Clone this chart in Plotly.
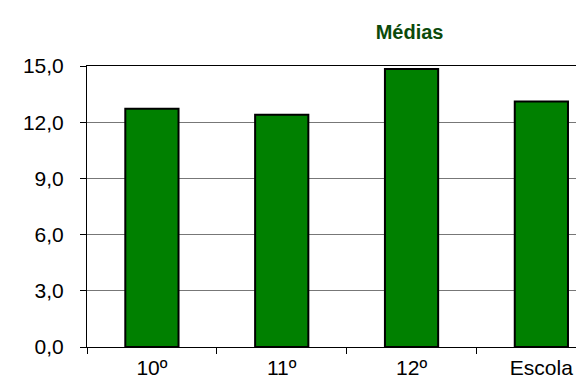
import plotly.graph_objects as go

categorias = ['10º', '11º', '12º', 'Escola']
medias = [12.72, 12.40, 14.84, 13.10]
y_ticks = [0, 3, 6, 9, 12, 15]
y_labels = ['0,0', '3,0', '6,0', '9,0', '12,0', '15,0']

fig = go.Figure()

fig.add_trace(go.Bar(
    x=categorias,
    y=medias,
    width=0.41,
    marker=dict(color='#008000', line=dict(color='#000000', width=2)),
    showlegend=False,
))

fig.update_layout(
    width=584, height=379,
    margin=dict(l=79, r=0, t=58, b=40),
    paper_bgcolor='white', plot_bgcolor='white',
    font=dict(family='Liberation Sans, Arial, sans-serif', color='#000000'),
    title=dict(
        text='<b>Médias</b>',
        font=dict(size=20, color='#0b4a0b'),
        x=373 / 584, xanchor='center', xref='paper',
        y=1 - 24 / 379, yanchor='middle', yref='container',
    ),
)

# category axis is cropped on the right, like the original picture
fig.update_xaxes(
    type='category', range=[-0.5, 3.39],
    tickson='boundaries', ticks='outside', ticklen=6, tickcolor='#000000',
    showline=True, linecolor='#000000', linewidth=1, mirror=True,
    showgrid=False, tickfont=dict(size=21), ticklabelstandoff=2,
)
fig.update_yaxes(
    range=[0, 15], tickvals=y_ticks, ticktext=y_labels,
    ticks='outside', ticklen=6, tickcolor='#000000',
    showline=True, linecolor='#000000', linewidth=1,
    showgrid=True, gridcolor='#777777', gridwidth=1,
    zeroline=False, tickfont=dict(size=21), ticklabelstandoff=12,
)

fig.write_html("out.html")
